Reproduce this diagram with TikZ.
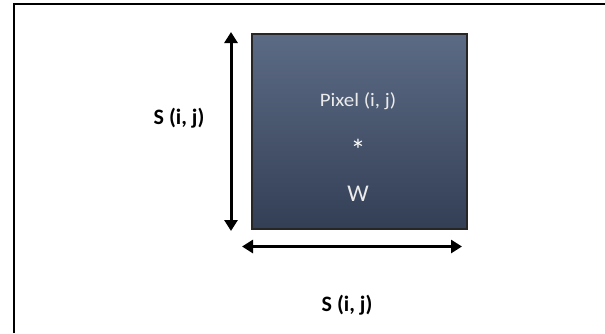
\documentclass[tikz,border=0pt]{standalone}
\usepackage{fontspec}
\setmainfont{Carlito}
\usetikzlibrary{arrows.meta}
\definecolor{boxtop}{HTML}{5C6B85}
\definecolor{boxbot}{HTML}{333F55}
\tikzset{
  dim/.style={line width=3pt, {Triangle[width=13pt,length=11pt]}-{Triangle[width=13pt,length=11pt]}},
  lbl/.style={font=\bfseries\fontsize{22}{26}\selectfont, inner sep=0pt},
  intext/.style={text=white!92!black, inner sep=0pt}
}
\begin{document}
\begin{tikzpicture}[x=1pt,y=-1pt]
\useasboundingbox (0,0) rectangle (605,333);
\draw[line width=2pt] (14,333) -- (14,4) -- (605,4);
\node[draw=black!85, line width=1.5pt, top color=boxtop, bottom color=boxbot,
  minimum width=215pt, minimum height=195pt, inner sep=0pt, anchor=north west] (pix) at (251,33) {};
\node[intext, xscale=1.1, font=\fontsize{19}{22}\selectfont] (ptxt) at (358,101) {Pixel (i, j)};
\node[intext, text=white, font=\fontsize{30}{32}\selectfont] (star) at (358,150) {*};
\node[intext, font=\fontsize{24}{28}\selectfont] (w) at (358,194) {W};
\coordinate (vt) at (231,32);
\coordinate (vb) at (231,231);
\coordinate (hl) at (242,246.5);
\coordinate (hr) at (462,246.5);
\draw[dim] (vt) -- (vb);
\draw[dim] (hl) -- (hr);
\node[lbl] (sl) at (179,118) {S (i, j)};
\node[lbl] (sb) at (347,305) {S (i, j)};
\end{tikzpicture}
\end{document}
